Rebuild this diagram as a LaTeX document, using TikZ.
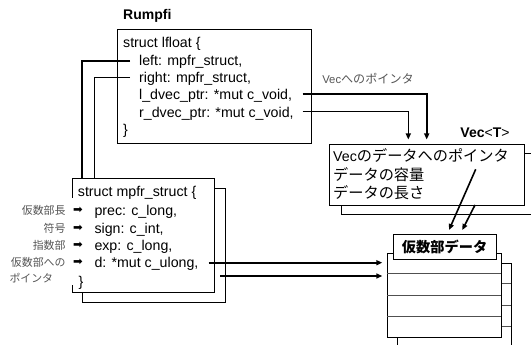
\documentclass[tikz,border=0pt]{standalone}
\usepackage{fontspec}
\setmainfont{Liberation Sans}
\newfontfamily\jp[Scale=1.07]{Noto Sans CJK JP}
\newfontfamily\dv{DejaVu Sans}
\usetikzlibrary{arrows.meta}
\definecolor{lblgray}{HTML}{555555}
\definecolor{rowgray}{HTML}{505050}
\begin{document}
\begin{tikzpicture}[x=1pt,y=-1pt,
  code/.style={anchor=west,inner sep=0pt,font=\fontsize{14.2}{17}\selectfont,text height=10pt,text depth=0pt},
  title/.style={inner sep=0pt,font=\fontsize{14}{17}\selectfont\bfseries,text height=10pt,text depth=0pt},
  lbl/.style={inner sep=0pt,font=\fontsize{10.2}{13}\selectfont\jp,text=lblgray,text height=8pt,text depth=0pt},
  glyph/.style={inner sep=0pt,font=\fontsize{11.5}{12}\selectfont\dv},
  box/.style={draw,line width=0.9pt,anchor=north west,inner sep=0pt},
  frontbox/.style={box,fill=white},
  rowline/.style={draw=rowgray,line width=0.9pt},
  conn/.style={line width=1.6pt},
  arr/.style={conn,-{Triangle[length=6pt,width=5pt]}}
]
\useasboundingbox (0,0) rectangle (531,345);

% ---------- Rumpfi / Lfloat ----------
\node[title,anchor=west] (rumpfi) at (123,15) {Rumpfi};
\node[box,minimum width=194pt,minimum height=114pt] (lf) at (117,29) {};
\node[code] (lfhead) at (123,43) {struct lfloat \{};
\node[code] (lleft) at (139,61) {left: mpfr\_struct,};
\node[code] (lright) at (139,77.5) {right: mpfr\_struct,};
\node[code] (ldv) at (139,95) {l\_dvec\_ptr: *mut c\_void,};
\node[code] (rdv) at (139,112.5) {r\_dvec\_ptr: *mut c\_void,};
\node[code] (lfend) at (123,130) {\}};

\node[lbl,font=\fontsize{11.3}{14}\selectfont,anchor=center] (vplbl) at (368,80) {Vec{\jp へのポインタ}};

% ---------- Vec<T> ----------
\node[title,anchor=center] (vectitle) at (485,133) {Vec{\mdseries<}T{\mdseries>}};
\node[box,minimum width=195pt,minimum height=60.5pt] (vecB) at (341,153.5) {};
\node[frontbox,minimum width=195pt,minimum height=60.5pt] (vecF) at (329,144.5) {};
\node[code] (v1) at (333,156.7) {Vec{\jp のデータへのポインタ}};
\node[code] (v2) at (333,175) {\jp データの容量};
\node[code] (v3) at (333,193.5) {\jp データの長さ};

% ---------- mpfr_struct ----------
\node[box,minimum width=143pt,minimum height=113.7pt] (mpfrB) at (82,188) {};
\node[frontbox,minimum width=142.3pt,minimum height=113.7pt] (mpfr) at (72,178) {};
\fill[white] (70,198) rectangle (74,285);
\node[code] (mhead) at (77.7,191.7) {struct mpfr\_struct \{};
\node[code] (mprec) at (94.3,210.7) {prec: c\_long,};
\node[code] (msign) at (94.3,228.3) {sign: c\_int,};
\node[code] (mexp) at (94.3,245) {exp: c\_long,};
\node[code] (md) at (94.3,262.7) {d: *mut c\_ulong,};
\node[code] (mend) at (78.3,281.7) {\}};

\node[lbl,anchor=east] (l1) at (65.7,210.7) {仮数部長};
\node[lbl,anchor=east] (l2) at (65.7,228.3) {符号};
\node[lbl,anchor=east] (l3) at (65.7,245) {指数部};
\node[lbl,anchor=east] (l4) at (65.7,262.7) {仮数部への};
\node[lbl,anchor=west] (l5) at (9.3,278.3) {ポインタ};
\node[glyph] (g1) at (78,210.7) {➡};
\node[glyph] (g2) at (78,228.3) {➡};
\node[glyph] (g3) at (78,245) {➡};
\node[glyph] (g4) at (78,262.7) {➡};

% ---------- mantissa data ----------
\node[box,minimum width=113.4pt,minimum height=83.4pt] (dataB) at (397.3,263.3) {};
\draw[rowline] (397.3,283.7) -- (510.7,283.7);
\draw[rowline] (397.3,305) -- (510.7,305);
\draw[rowline] (397.3,326) -- (510.7,326);
\node[frontbox,minimum width=113.4pt,minimum height=83.4pt] (dataF) at (387.3,253.3) {};
\draw[rowline] (387.3,273.7) -- (500.7,273.7);
\draw[rowline] (387.3,295) -- (500.7,295);
\draw[rowline] (387.3,316) -- (500.7,316);
\node[frontbox,minimum width=103pt,minimum height=24.7pt] (dataL) at (392.7,234.3) {};
\node[title,font=\fontsize{13.3}{17}\selectfont\jp\bfseries] (dataT) at (dataL.center) {仮数部データ};

% ---------- connectors ----------
\draw[conn] ([xshift=-9pt]lleft.west) -| ([xshift=9.7pt]mpfr.north west);
\draw[conn] ([xshift=-9pt]lright.west) -| ([xshift=22.3pt]mpfr.north west);
\draw[arr,shorten >=5pt] ([xshift=-9.3pt,yshift=1pt]ldv.east -| lf.east) -| ([xshift=97.7pt]vecF.north west);
\draw[arr,shorten >=5pt] ([xshift=-9.3pt,yshift=1pt]rdv.east -| lf.east) -| ([xshift=79.3pt]vecF.north west);

\coordinate (p1) at (475.7,169.3);
\coordinate (t1) at (449,230);
\coordinate (p2) at (475,205);
\coordinate (t2) at (462.3,230);
\draw[arr] (p1) -- (t1);
\draw[arr] (p2) -- (t2);

\draw[arr,shorten >=5pt] ([xshift=-6.6pt]md.east -| mpfr.east) -- (md.east -| dataF.west);
\coordinate (d2) at (220,276);
\draw[arr,shorten >=5pt] (d2) -- (d2 -| dataF.west);
\end{tikzpicture}
\end{document}
